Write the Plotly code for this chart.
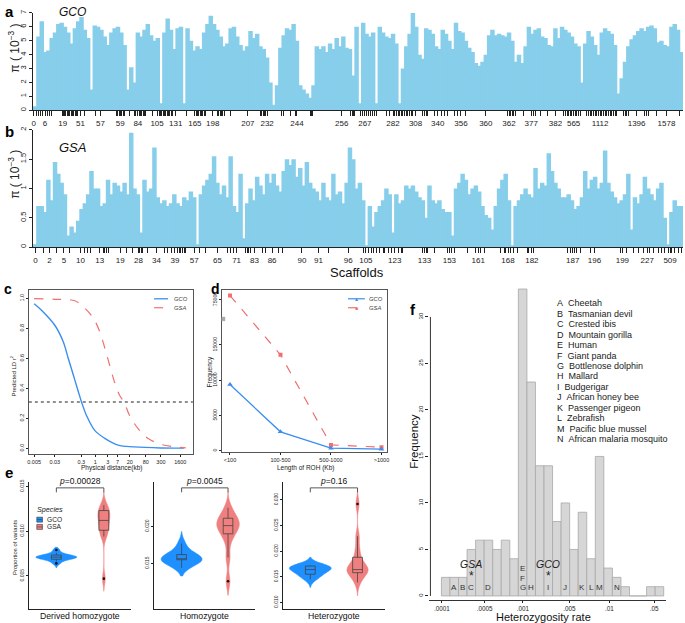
import plotly.graph_objects as go

W, H = 685, 623
FONT = "Liberation Sans, Arial, Helvetica, sans-serif"
SKY = "#87CEEB"
BLUE = "#1E90FF"
RED = "#F08080"
LBLUE = "#3a8ef0"
LRED = "#f07070"

# ---------------- panel a / b : nucleotide diversity (pi, 1e-3) per window ----------------
pi_gco = [0.3, 5.3, 6.4, 4.2, 4.3, 5.2, 5.6, 6.2, 6.3, 6.0,
          5.6, 4.8, 5.9, 6.4, 6.7, 5.8, 5.2, 1.5, 6.1, 6.0,
          5.8, 5.3, 4.7, 5.6, 5.9, 6.0, 5.6, 4.7, 1.5, 3.1,
          2.0, 5.6, 5.3, 5.8, 6.2, 5.4, 5.0, 5.2, 0.5, 5.6,
          6.6, 5.8, 4.4, 5.9, 6.0, 0.5, 5.9, 5.0, 4.3, 4.6,
          4.4, 5.6, 6.2, 6.8, 6.2, 5.8, 5.3, 4.6, 4.8, 5.9,
          6.0, 5.3, 4.7, 4.3, 4.6, 5.7, 5.2, 5.5, 4.6, 4.4,
          3.8, 2.0, 0.4, 1.8, 4.5, 5.4, 5.9, 5.8, 6.2, 5.0,
          1.8, 1.5, 1.2, 0.9, 1.8, 4.6, 4.4, 4.6, 4.2, 4.8,
          4.4, 5.2, 4.6, 5.3, 4.5, 4.4,
          2.5, 6.0, 0.5, 6.3, 5.5, 5.3, 5.6, 0.5, 6.0, 5.6,
          5.3, 5.2, 5.5, 4.8, 0.5, 3.0, 4.6, 5.5, 7.0, 6.0,
          4.0, 3.7, 5.9, 5.8, 5.5, 4.6, 4.4, 5.8, 5.5, 5.0,
          4.4, 6.3, 5.7, 5.6, 5.0, 4.5, 4.2, 3.4, 3.2, 3.5,
          4.0, 5.4, 5.8, 5.4, 5.5, 5.4, 5.3, 5.6, 5.0, 3.5,
          4.0, 3.4, 4.6, 6.0, 5.5, 5.8, 5.9, 5.3, 5.2, 4.7,
          4.6, 5.9, 5.2, 6.0, 5.8, 5.6, 5.3, 4.8, 4.6, 2.0,
          4.8, 5.7, 5.3, 4.7, 4.0, 5.6, 5.9, 5.7, 5.5, 4.7,
          1.2, 2.3, 3.5, 4.6, 5.1, 5.4, 5.7, 5.9, 5.7, 6.0,
          6.1, 5.9, 4.9, 5.0, 4.7, 4.6, 6.0, 6.2, 5.8, 4.2]

pi_gsa = [0.05, 0.7, 0.7, 0.6, 1.15, 0.8, 1.45, 1.25, 1.1, 0.9,
          0.2, 0.35, 0.25, 0.45, 0.65, 0.75, 0.9, 1.3, 1.0, 1.0,
          0.7, 0.75, 1.15, 0.9, 1.1, 1.05, 0.95, 1.1, 0.9, 1.95,
          1.0, 0.9, 0.25, 1.15, 0.95, 1.0, 1.7, 0.85, 0.75, 0.8,
          0.7, 0.75, 0.9, 0.75, 0.7, 0.85, 0.8, 0.95, 0.85, 0.05,
          0.9, 1.05, 1.15, 1.25, 1.55, 1.1, 0.9, 1.05, 0.85, 1.55,
          0.7, 0.6, 1.25, 0.15, 0.75, 1.0, 0.8, 1.2, 1.05, 0.9,
          1.25, 1.1, 1.25, 1.05, 0.95, 1.3, 1.5, 1.4, 1.5, 1.2,
          1.35, 1.05, 1.45, 1.1, 1.0, 0.95, 0.8, 1.1, 0.85, 0.8,
          1.25, 0.9, 0.95, 0.75, 1.1, 1.7,
          1.5, 1.0, 1.1, 0.8, 0.03, 0.7, 0.35, 0.6, 0.7, 0.8,
          1.0, 0.9, 0.25, 0.9, 0.75, 0.8, 1.05, 1.0, 1.05, 0.95,
          0.85, 0.8, 0.5, 1.05, 0.8, 0.75, 0.8, 0.65, 0.6, 0.6,
          0.2, 1.0, 1.1, 1.25, 1.15, 0.9, 1.0, 1.05, 0.95, 0.7,
          0.55, 0.5, 0.3, 0.7, 1.0, 1.15, 1.25, 0.8, 0.03, 0.7,
          0.8, 0.9, 1.0, 0.9, 0.85, 1.35, 1.0, 1.1, 1.05, 1.6,
          1.3, 1.1, 1.0, 0.85, 0.85, 0.9, 0.8, 0.65, 0.7, 0.85,
          1.3, 1.0, 1.15, 1.2, 1.0, 1.1, 1.65, 1.1, 0.95, 0.85,
          0.75, 0.8, 0.9, 1.25, 0.3, 0.85, 0.75, 0.9, 1.2, 1.0,
          0.9, 0.8, 1.0, 1.1, 0.5, 0.05, 0.6, 0.8, 0.7, 0.7]

a_labels = ["0", "6", "19", "51", "57", "59", "84", "105", "131", "165", "198", "207", "232", "244",
            "256", "267", "282", "308", "340", "356", "360", "362", "377", "382", "565", "1112", "1396", "1578"]
a_label_pos = [-0.4, 3.0, 8.3, 13.7, 19.7, 25.7, 31.0, 36.8, 42.4, 48.2, 53.6, 64.2, 70.0, 79.0,
               92.5, 99.5, 108.0, 114.8, 121.5, 128.5, 136.0, 143.0, 149.7, 157.0, 162.5, 170.5, 181.5, 190.5]
a_breaks = [0.4, 1.0, 1.6, 2.2, 3.7, 4.3, 5.0, 8.5, 8.9, 9.3, 9.7, 10.1, 10.5, 10.9, 11.3, 11.7, 12.1,
            12.5, 12.9, 15.0, 18.3, 24.6, 25.0, 25.4, 26.2, 26.6, 27.0, 28.5, 30.0, 30.4, 30.8, 31.4,
            31.8, 32.2, 32.6, 33.0, 33.4, 35.5, 37.0, 37.4, 37.8, 38.2, 38.6, 39.0, 39.4, 39.8, 40.2,
            40.6, 41.0, 41.4, 45.6, 48.6, 49.0, 49.4, 49.8, 50.2, 50.6, 51.0, 51.4, 55.0, 55.4, 55.8,
            56.2, 56.6, 57.0, 59.0, 68.0, 68.4, 68.8, 69.2, 69.6, 74.2, 74.8, 77.0, 78.5, 83.0, 83.4,
            83.8, 95.3, 95.7, 96.1, 96.5, 98.3, 98.9, 100.1, 100.7, 101.3, 101.9, 102.5, 103.1, 106.0,
            107.0, 108.5, 109.0, 109.5, 110.0, 110.5, 111.0, 111.5, 112.0, 112.5, 113.0, 113.5, 114.0,
            117.0, 117.5, 118.0, 118.5, 120.5, 122.5, 123.5, 124.5, 126.5, 127.5, 130.0, 142.5, 143.5,
            144.0, 144.5, 145.0, 147.5, 150.3, 150.9, 152.5, 154.5, 159.5, 160.0, 160.5, 161.0, 161.5,
            162.0, 163.0, 163.5, 164.0, 164.5, 166.5, 167.0, 167.5, 168.0, 168.5, 169.0, 169.5, 170.0,
            171.0, 171.5, 172.0, 172.5, 173.0, 173.5, 174.0, 174.5, 175.0, 175.5, 177.5, 178.0, 178.5,
            179.0, 184.0, 184.5, 185.0, 187.5, 194.5]

b_labels = ["0", "2", "5", "10", "13", "19", "28", "34", "39", "57", "65", "71", "83", "86", "90", "91",
            "96", "105", "123", "133", "153", "161", "168", "182", "187", "196", "199", "227", "509"]
b_label_pos = [0.1, 4.3, 8.7, 13.7, 19.5, 25.7, 31.2, 36.6, 42.2, 48.0, 55.0, 60.8, 66.2, 71.5, 80.5,
               85.5, 94.5, 99.8, 108.5, 117.5, 125.0, 133.7, 142.7, 149.9, 162.2, 168.8, 177.2, 184.7, 191.6]
b_breaks = [2.5, 6.5, 10.5, 15.0, 15.8, 16.6, 20.5, 21.0, 21.5, 22.0, 27.5, 29.5, 31.6, 32.0, 32.4, 34.0,
            39.0, 40.0, 41.0, 43.0, 43.5, 44.0, 44.5, 45.0, 45.5, 49.5, 51.5, 58.0, 59.0, 60.0, 63.5,
            64.0, 64.5, 65.0, 68.5, 69.5, 73.5, 74.5, 88.5, 99.0, 100.5, 101.5, 102.0, 103.0, 104.0,
            105.0, 105.5, 106.5, 107.5, 109.5, 110.5, 111.0, 117.0, 118.0, 118.5, 120.5, 124.5, 125.5,
            126.5, 130.5, 133.0, 134.5, 135.5, 140.5, 141.5, 142.0, 143.5, 144.5, 145.5, 148.5, 149.0,
            150.5, 160.5, 161.5, 162.8, 163.5, 164.5, 167.5, 176.5, 178.5, 180.5, 182.0, 183.5, 185.5,
            186.5, 188.0, 189.0, 190.0, 191.0, 192.0, 193.0, 194.0, 195.0]

# ---------------- panel c : LD decay ----------------
ld_dist_gco = [0.005, 0.0097, 0.0305, 0.063, 0.097, 0.15, 0.23, 0.305, 0.47, 0.96, 2.3, 7.2, 30, 300, 2200]
ld_r2_gco = [0.965, 0.92, 0.82, 0.71, 0.60, 0.49, 0.38, 0.31, 0.22, 0.12, 0.067, 0.022, 0.01, 0.003, 0.002]
ld_dist_gsa = [0.005, 0.03, 0.17, 0.41, 0.84, 1.4, 2.3, 3.5, 5.4, 8.3, 12.2, 19.7, 40.7, 96, 300, 950, 2600]
ld_r2_gsa = [1.0, 0.995, 0.985, 0.935, 0.87, 0.79, 0.67, 0.555, 0.44, 0.355, 0.31, 0.22, 0.133, 0.067,
             0.027, 0.011, 0.003]
ld_threshold = 0.31
ld_ticks = [0.005, 0.03, 0.3, 1, 3, 7, 20, 80, 300, 1600]
ld_ticktext = ["0.005", "0.03", "0.3", "1", "3", "7", "20", "80", "300", "1600"]

# ---------------- panel d : ROH ----------------
roh_cats = ["<100", "100-500", "500-1000", ">1000"]
roh_gco = [9400, 2700, 380, 240]
roh_gsa = [75600, 13600, 850, 520]


def broken_axis(v):
    # y axis is broken between ~18000 and 75000
    return v if v < 18000 else v - 53600


# ---------------- panel e : violins ----------------
e_groups = ["Derived homozygote", "Homozygote", "Heterozygote"]
gco_samples = [
    [0.0064, 0.0067, 0.0069, 0.0070, 0.00705, 0.0071, 0.0071, 0.00715, 0.0072, 0.0073, 0.0075, 0.0079],
    [0.0144, 0.0150, 0.0152, 0.0154, 0.0155, 0.0156, 0.0157, 0.0160, 0.0162, 0.0167, 0.0177],
    [0.0145, 0.0152, 0.0155, 0.0160, 0.0164, 0.0166, 0.0168, 0.0170, 0.0171, 0.0172],
]
gsa_samples = [
    [0.0047, 0.0094, 0.0099, 0.0103, 0.0108, 0.0112, 0.0115, 0.0119, 0.0122, 0.0125, 0.0130],
    [0.0126, 0.0158, 0.0180, 0.0190, 0.0195, 0.0199, 0.0201, 0.0204, 0.0208, 0.0211, 0.0216, 0.0225],
    [0.0139, 0.0150, 0.0158, 0.0160, 0.0163, 0.0164, 0.0166, 0.0170, 0.0178, 0.0188, 0.0205, 0.0229, 0.0292],
]
gco_span = [[0.0059, 0.0082], [0.0133, 0.0193], [0.0129, 0.0188]]
gsa_span = [[0.0033, 0.0144], [0.0107, 0.0247], [0.0113, 0.0316]]
gco_bw = [0.00022, 0.0007, 0.0007]
gsa_bw = [0.0006, 0.0009, 0.0011]
gco_q1 = [0.00686, 0.0155, 0.0155]
gco_med = [0.0071, 0.0156, 0.0164]
gco_q3 = [0.00733, 0.0162, 0.0171]
gco_lo = [0.0066, 0.0144, 0.0145]
gco_hi = [0.0076, 0.0177, 0.0172]
gsa_q1 = [0.0101, 0.0190, 0.0158]
gsa_med = [0.0112, 0.0201, 0.0164]
gsa_q3 = [0.0123, 0.0211, 0.0188]
gsa_lo = [0.0094, 0.0158, 0.0139]
gsa_hi = [0.0129, 0.0225, 0.0229]
gco_out = [[0.0064, 0.0079], [], []]
gsa_out = [[0.0047], [0.0126], [0.0292]]
p_values = ["0.00028", "0.0045", "0.16"]

# ---------------- panel f : heterozygosity histogram ----------------
het_counts = [2, 2, 2, 5, 6, 6, 5, 6, 4, 33, 23, 14, 14, 8, 10, 5, 9, 4, 15, 3, 2, 1, 0, 0, 1, 1]
het_tick_pos = [0.04, 5.04, 9.53, 14.96, 19.65, 24.88]
het_tick_text = [".0001", ".0005", ".001", ".005", ".01", ".05"]
sp_letters = ["A", "B", "C", "D", "E", "F", "G", "H", "I", "J", "K", "L", "M", "N"]
sp_names = ["Cheetah", "Tasmanian devil", "Crested ibis", "Mountain gorilla", "Human", "Giant panda",
            "Bottlenose dolphin", "Mallard", "Budgerigar", "African honey bee", "Passenger pigeon",
            "Zebrafish", "Pacific blue mussel", "African malaria mosquito"]
sp_bin = [1, 2, 3, 5, 9, 9, 9, 10, 12, 14, 16, 17, 18, 20]
sp_stack = [0, 0, 0, 0, 2, 1, 0, 0, 0, 0, 0, 0, 0, 0]
gsa_het_bin = 3
gco_het_bin = 12


# ======================= helpers =======================
def dx(a, b):
    return [a / W, b / W]


def dy(top, bot):
    return [1 - bot / H, 1 - top / H]


def PX(x):
    return x / W


def PY(y):
    return 1 - y / H


def tf(size, color="#222"):
    return dict(family=FONT, size=size, color=color)


annotations = []
shapes = []


def text(x, y, s, size, italic=False, bold=False, angle=0, xanchor="center", color="#222"):
    if italic:
        s = "<i>" + s + "</i>"
    if bold:
        s = "<b>" + s + "</b>"
    annotations.append(dict(x=PX(x), y=PY(y), xref="paper", yref="paper", text=s, showarrow=False,
                            font=tf(size, color), textangle=angle, xanchor=xanchor, yanchor="middle",
                            borderpad=0))


def pline(x0, y0, x1, y1, color="#222", width=1, dash=None):
    ln = dict(color=color, width=width)
    if dash:
        ln["dash"] = dash
    shapes.append(dict(type="line", xref="paper", yref="paper", x0=PX(x0), y0=PY(y0), x1=PX(x1),
                       y1=PY(y1), line=ln))


def prect(x0, y0, x1, y1, fill, line="#333", lw=0.6):
    shapes.append(dict(type="rect", xref="paper", yref="paper", x0=PX(x0), y0=PY(y1), x1=PX(x1),
                       y1=PY(y0), fillcolor=fill, line=dict(color=line, width=lw)))


def ax(**kw):
    d = dict(showgrid=False, zeroline=False, ticks="outside", tickcolor="#222", tickwidth=1, ticklen=3,
             showline=True, linecolor="#222", linewidth=1, tickfont=tf(6), type="linear")
    d.update(kw)
    return d


fig = go.Figure()

# ---------- a ----------
fig.add_trace(go.Bar(x=list(range(len(pi_gco))), y=pi_gco, width=1.35,
                     marker=dict(color=SKY, line=dict(width=0)), xaxis="x", yaxis="y"))
# ---------- b ----------
fig.add_trace(go.Bar(x=list(range(len(pi_gsa))), y=pi_gsa, width=1.35,
                     marker=dict(color=SKY, line=dict(width=0)), xaxis="x2", yaxis="y2"))

# ---------- c ----------
fig.add_trace(go.Scatter(x=ld_dist_gco, y=ld_r2_gco, mode="lines", line=dict(color=LBLUE, width=1.4, shape="spline"),
                         xaxis="x3", yaxis="y3"))
fig.add_trace(go.Scatter(x=ld_dist_gsa, y=ld_r2_gsa, mode="lines",
                         line=dict(color=LRED, width=1.2, dash="dash", shape="spline"), xaxis="x3", yaxis="y3"))

# ---------- d ----------
fig.add_trace(go.Scatter(x=list(range(len(roh_cats))), y=[broken_axis(v) for v in roh_gsa], mode="lines+markers",
                         line=dict(color=LRED, width=1.2, dash="dash"),
                         marker=dict(symbol="square", size=4, color=LRED), xaxis="x4", yaxis="y4"))
fig.add_trace(go.Scatter(x=list(range(len(roh_cats))), y=[broken_axis(v) for v in roh_gco], mode="lines+markers",
                         line=dict(color=LBLUE, width=1.3),
                         marker=dict(symbol="triangle-up", size=5, color=LBLUE), xaxis="x4", yaxis="y4"))

# ---------- e ----------
GCO_POS, GSA_POS = -0.275, 0.28
gco_vw = [0.48, 0.49, 0.49]
gsa_vw = [0.14, 0.27, 0.25]
for i in range(3):
    xa, ya = "x%d" % (5 + i), "y%d" % (5 + i)
    for pos, samp, span, bw, vw, col in [(GCO_POS, gco_samples[i], gco_span[i], gco_bw[i], gco_vw[i], BLUE),
                                         (GSA_POS, gsa_samples[i], gsa_span[i], gsa_bw[i], gsa_vw[i], RED)]:
        fig.add_trace(go.Violin(y=samp, x0=pos, width=vw, bandwidth=bw, spanmode="manual", span=span,
                                fillcolor=col, line=dict(color=col, width=0.5), points=False,
                                box_visible=False, meanline_visible=False, scalemode="width",
                                opacity=1, xaxis=xa, yaxis=ya))
    for pos, q1, md, q3, lo, hi, col in [(GCO_POS, gco_q1[i], gco_med[i], gco_q3[i], gco_lo[i], gco_hi[i], BLUE),
                                         (GSA_POS, gsa_q1[i], gsa_med[i], gsa_q3[i], gsa_lo[i], gsa_hi[i], RED)]:
        fig.add_trace(go.Box(x=[pos], q1=[q1], median=[md], q3=[q3], lowerfence=[lo], upperfence=[hi],
                             width=0.115, whiskerwidth=0, boxpoints=False, fillcolor=col,
                             line=dict(color="#444", width=0.8), xaxis=xa, yaxis=ya))
    outs_x = [GCO_POS] * len(gco_out[i]) + [GSA_POS] * len(gsa_out[i])
    outs_y = gco_out[i] + gsa_out[i]
    fig.add_trace(go.Scatter(x=outs_x, y=outs_y, mode="markers", marker=dict(color="#111", size=2.6),
                             xaxis=xa, yaxis=ya))

# ---------- f ----------
fig.add_trace(go.Bar(x=[k + 0.5 for k in range(len(het_counts))], y=het_counts, width=1.0,
                     marker=dict(color="#d6d6d6", line=dict(color="#a8a8a8", width=0.8)),
                     xaxis="x8", yaxis="y8"))

# ======================= layout / axes =======================
layout = dict(
    width=W, height=H, margin=dict(l=0, r=0, t=0, b=0, pad=0),
    paper_bgcolor="white", plot_bgcolor="rgba(0,0,0,0)", showlegend=False,
    font=dict(family=FONT), violinmode="overlay", boxmode="overlay", barmode="overlay",
)

layout["xaxis"] = ax(domain=dx(31, 685), range=[-0.7, 195.5], anchor="y", tickvals=a_label_pos + a_breaks,
                     ticktext=a_labels + [""] * len(a_breaks), ticklen=5, tickangle=0, tickfont=tf(8))
layout["yaxis"] = ax(domain=dy(10, 108), range=[0, 7], anchor="x", tickvals=list(range(8)),
                     tickangle=-90, tickfont=tf(7.5))
layout["xaxis2"] = ax(domain=dx(31, 685), range=[-0.7, 195.5], anchor="y2", tickvals=b_label_pos + b_breaks,
                      ticktext=b_labels + [""] * len(b_breaks), ticklen=5, tickangle=0, tickfont=tf(8))
layout["yaxis2"] = ax(domain=dy(127.7, 245.7), range=[0, 2], anchor="x2", tickvals=[0, 0.5, 1, 1.5, 2],
                      ticktext=["0", "0.5", "1", "1.5", "2"], tickangle=-90, tickfont=tf(7.5))

layout["xaxis3"] = ax(type="log", domain=dx(27, 192), range=[-2.5, 3.68], anchor="y3", mirror=True,
                      linecolor="#555", tickvals=ld_ticks, ticktext=ld_ticktext, tickfont=tf(5.5), tickangle=0,
                      ticklen=2)
layout["yaxis3"] = ax(domain=dy(289, 454), range=[-0.038, 1.056], anchor="x3", mirror=True, linecolor="#555",
                      tickvals=[0, 0.2, 0.4, 0.6, 0.8, 1.0], ticktext=["0.0", "0.2", "0.4", "0.6", "0.8", "1.0"],
                      tickangle=-90, tickfont=tf(5.5), ticklen=2)

layout["xaxis4"] = ax(domain=dx(221.7, 387.3), range=[-0.15, 3.11], anchor="y4", mirror=True, linecolor="#555",
                      tickvals=list(range(len(roh_cats))), ticktext=roh_cats, tickfont=tf(5.5), tickangle=0,
                      ticklen=2)
layout["yaxis4"] = ax(domain=dy(289, 452.3), range=[-210, 22760], anchor="x4", mirror=True, linecolor="#555",
                      tickvals=[0, 5000, 10000, 15000, broken_axis(75000)],
                      ticktext=["0", "5000", "10000", "15000", "75000"], tickangle=-90, tickfont=tf(5.2),
                      ticklen=2)

e_dom = [(26.7, 130), (153.3, 254.3), (282.3, 385)]
e_range = [[0.0013, 0.0155], [0.00884, 0.0260], [0.0087, 0.0335]]
e_ticks = [[0.005, 0.010, 0.015], [0.015, 0.020], [0.010, 0.015, 0.020, 0.025, 0.030]]
for i in range(3):
    layout["xaxis%d" % (5 + i)] = ax(domain=dx(*e_dom[i]), range=[-0.6, 0.6], anchor="y%d" % (5 + i),
                                      ticks="", showticklabels=False)
    layout["yaxis%d" % (5 + i)] = ax(domain=dy(482, 610), range=e_range[i], anchor="x%d" % (5 + i),
                                      tickvals=e_ticks[i], ticktext=["%.3f" % v for v in e_ticks[i]],
                                      tickangle=-90, tickfont=tf(5), ticklen=2)

layout["xaxis8"] = ax(domain=dx(430, 668), range=[-1.395, 26.28], anchor="y8", tickvals=het_tick_pos,
                      ticktext=het_tick_text, tickfont=tf(6.3), tickangle=0, linecolor="#333", ticklen=2)
layout["yaxis8"] = ax(domain=dy(286, 601), range=[-0.45, 33.2], anchor="x8", showline=False,
                      tickvals=[0, 5, 10, 15, 20, 25, 30], tickangle=-90, tickfont=tf(6))

# ======================= decorations =======================
# a / b
text(2, 9, "a", 15, bold=True, xanchor="left", color="#000")
text(71, 9, "GCO", 12, italic=True, color="#111")
text(12, 45, "π ( 10<sup>−3</sup> )", 12, angle=-90)
text(2, 129, "b", 15, bold=True, xanchor="left", color="#000")
text(70.5, 145, "GSA", 13, italic=True, color="#111")
text(12, 172, "π ( 10<sup>−3</sup> )", 12, angle=-90)
text(357, 271, "Scaffolds", 13, color="#111")

# c
text(1, 288, "c", 14, bold=True, xanchor="left", color="#000")
shapes.append(dict(type="line", xref="x3 domain", yref="y3", x0=0, x1=1, y0=ld_threshold, y1=ld_threshold,
                   line=dict(color="#222", width=1.1, dash="dot")))
pline(153, 297.7, 167, 297.7, LBLUE, 1.3)
pline(153, 306.7, 167, 306.7, LRED, 1.2, "dash")
text(172, 297.7, "GCO", 5.8, italic=True, xanchor="left", color="#444")
text(172, 306.7, "GSA", 5.8, italic=True, xanchor="left", color="#444")
text(110, 468, "Physical distance(kb)", 6.5)
text(11, 375, "Predicted LD r<sup>2</sup>", 6, angle=-90)

# d
text(209, 288, "d", 14, bold=True, xanchor="left", color="#000")
prect(221.0, 316, 224.4, 320, "#aaaaaa", line="#aaaaaa", lw=0.3)
pline(348, 297.7, 365, 297.7, LBLUE, 1.2)
pline(348, 306.7, 365, 306.7, LRED, 1.2, "dash")
text(356.5, 297.5, "▲", 5, color=LBLUE)
text(356.5, 306.5, "■", 5, color=LRED)
text(368, 297.7, "GCO", 5.8, italic=True, xanchor="left", color="#444")
text(368, 306.7, "GSA", 5.8, italic=True, xanchor="left", color="#444")
text(305, 468, "Length of ROH (Kb)", 6.5)
text(209, 371, "Frequency", 6.5, angle=-90)

# e
text(2, 473, "e", 15, bold=True, xanchor="left", color="#000")
text(13.5, 548, "Proportion of variants", 5.8, angle=-90)
e_centers = [78.4, 203.8, 333.7]
for i in range(3):
    x0, x1 = e_dom[i][0] + (e_dom[i][1] - e_dom[i][0]) * (GCO_POS + 0.6) / 1.2, \
             e_dom[i][0] + (e_dom[i][1] - e_dom[i][0]) * (GSA_POS + 0.6) / 1.2
    pline(x0, 488, x1, 488, "#444", 0.9)
    pline(x0, 488, x0, 492.5, "#444", 0.9)
    pline(x1, 488, x1, 492.5, "#444", 0.9)
    text((x0 + x1) / 2, 481.5, "<i>p</i>=" + p_values[i], 8.5, color="#111")
    text(e_centers[i], 617, e_groups[i], 8.7, color="#111")
text(34.5, 509.5, "Species", 7.2, italic=True, xanchor="left", color="#222")
prect(35, 517.5, 40.7, 522.5, BLUE, "#333", 0.6)
pline(35.4, 520, 40.3, 520, "#333", 0.6)
prect(35, 524.8, 40.7, 529.8, RED, "#333", 0.6)
pline(35.4, 527.3, 40.3, 527.3, "#333", 0.6)
text(44, 520, "GCO", 6.6, xanchor="left")
text(44, 527.3, "GSA", 6.6, xanchor="left")

# f
text(409, 308, "f", 15, bold=True, xanchor="left", color="#000")
shapes.append(dict(type="line", xref="x8 domain", yref="y8", x0=0.004, x1=0.004, y0=0, y1=30,
                   line=dict(color="#333", width=1)))
for k in range(len(sp_letters)):
    text(557.5, 302.3 + 10.5 * k, sp_letters[k] + "\u00a0\u00a0" + sp_names[k], 9, xanchor="left", color="#222")
    annotations.append(dict(x=sp_bin[k] + 0.5, y=0.9 + 1.0 * sp_stack[k], xref="x8", yref="y8",
                            text=sp_letters[k], showarrow=False, font=tf(8, "#333"), xanchor="center",
                            yanchor="middle"))
for b, lab in [(gsa_het_bin, "GSA"), (gco_het_bin, "GCO")]:
    annotations.append(dict(x=b + 0.5, y=2.1, xref="x8", yref="y8", text="*", showarrow=False,
                            font=tf(12, "#222"), xanchor="center", yanchor="middle"))
    annotations.append(dict(x=b + 0.45, y=3.45, xref="x8", yref="y8", text="<i>" + lab + "</i>",
                            showarrow=False, font=tf(10.5, "#222"), xanchor="center", yanchor="middle"))
text(545, 618, "Heterozygosity rate", 11, color="#111")
text(415, 441, "Frequency", 11.5, angle=-90, color="#111")

layout["annotations"] = annotations
layout["shapes"] = shapes
fig.update_layout(**layout)

fig.write_html("out.html", config={"displayModeBar": False},
               post_script="document.body.style.margin='0';document.body.style.overflow='hidden';")
